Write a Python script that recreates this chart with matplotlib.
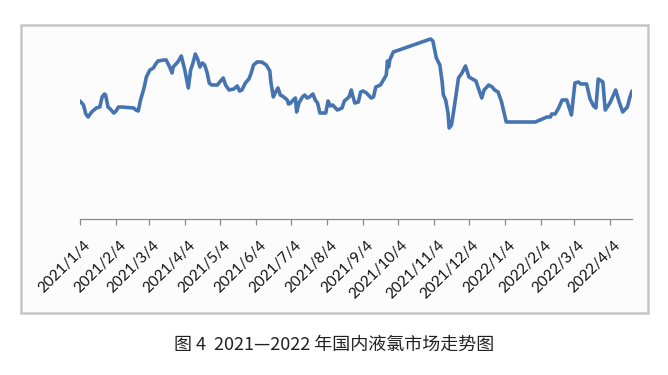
import matplotlib
matplotlib.use("Agg")
import matplotlib.pyplot as plt
import matplotlib.patches as mpatches
import matplotlib.transforms as mtrans
import pandas as pd

# ---- data (units arbitrary, no y labels shown) ----
dates = [
    "2021-01-04", "2021-01-07", "2021-01-09", "2021-01-11", "2021-01-14", "2021-01-18",
    "2021-01-21", "2021-01-23", "2021-01-25", "2021-01-26", "2021-01-28", "2021-01-30",
    "2021-02-02", "2021-02-04", "2021-02-06", "2021-02-09", "2021-02-19", "2021-02-21",
    "2021-02-23", "2021-02-25", "2021-02-28", "2021-03-02", "2021-03-05", "2021-03-08",
    "2021-03-10", "2021-03-12", "2021-03-17", "2021-03-19", "2021-03-22", "2021-03-24",
    "2021-03-25", "2021-03-29", "2021-04-01", "2021-04-04", "2021-04-07", "2021-04-09",
    "2021-04-11", "2021-04-13", "2021-04-15", "2021-04-17", "2021-04-19", "2021-04-21",
    "2021-04-23", "2021-04-25", "2021-04-27", "2021-05-02", "2021-05-04", "2021-05-07",
    "2021-05-09", "2021-05-12", "2021-05-16", "2021-05-19", "2021-05-21", "2021-05-23",
    "2021-05-26", "2021-05-29", "2021-05-31", "2021-06-02", "2021-06-05", "2021-06-09",
    "2021-06-13", "2021-06-16", "2021-06-17", "2021-06-19", "2021-06-21", "2021-06-23",
    "2021-06-25", "2021-06-28", "2021-07-01", "2021-07-02", "2021-07-04", "2021-07-06",
    "2021-07-08", "2021-07-09", "2021-07-11", "2021-07-14", "2021-07-16", "2021-07-18",
    "2021-07-20", "2021-07-23", "2021-07-25", "2021-07-27", "2021-07-29", "2021-08-01",
    "2021-08-03", "2021-08-05", "2021-08-07", "2021-08-09", "2021-08-13", "2021-08-17",
    "2021-08-19", "2021-08-23", "2021-08-25", "2021-08-26", "2021-08-28", "2021-08-31",
    "2021-09-02", "2021-09-04", "2021-09-07", "2021-09-11", "2021-09-13", "2021-09-15",
    "2021-09-19", "2021-09-22", "2021-09-24", "2021-09-25", "2021-09-26", "2021-09-27",
    "2021-09-30", "2021-11-01", "2021-11-03", "2021-11-06", "2021-11-09", "2021-11-11",
    "2021-11-12", "2021-11-14", "2021-11-16", "2021-11-17", "2021-11-19", "2021-11-21",
    "2021-11-25", "2021-11-28", "2021-12-01", "2021-12-04", "2021-12-07", "2021-12-10",
    "2021-12-12", "2021-12-15", "2021-12-17", "2021-12-21", "2021-12-24", "2021-12-26",
    "2021-12-29", "2022-01-01", "2022-01-05", "2022-01-30", "2022-02-03", "2022-02-09",
    "2022-02-12", "2022-02-13", "2022-02-16", "2022-02-19", "2022-02-22", "2022-02-26",
    "2022-03-02", "2022-03-05", "2022-03-08", "2022-03-10", "2022-03-15", "2022-03-18",
    "2022-03-21", "2022-03-23", "2022-03-25", "2022-03-29", "2022-03-31", "2022-04-04",
    "2022-04-09", "2022-04-12", "2022-04-15", "2022-04-19", "2022-04-21", "2022-04-23",
]
prices = [
    1180, 1140, 1050, 1020, 1070, 1110,
    1120, 1220, 1250, 1240, 1120, 1100,
    1060, 1080, 1120, 1120, 1110, 1090,
    1080, 1190, 1310, 1420, 1490, 1510,
    1550, 1580, 1590, 1590, 1520, 1460,
    1520, 1570, 1630, 1490, 1310, 1490,
    1560, 1650, 1600, 1520, 1560, 1540,
    1470, 1360, 1340, 1340, 1370, 1410,
    1340, 1290, 1300, 1330, 1280, 1290,
    1360, 1400, 1460, 1540, 1570, 1570,
    1540, 1480, 1360, 1220, 1270, 1310,
    1240, 1220, 1190, 1150, 1160, 1190,
    1210, 1070, 1160, 1220, 1240, 1210,
    1220, 1250, 1190, 1160, 1060, 1060,
    1060, 1180, 1130, 1140, 1090, 1110,
    1180, 1220, 1290, 1240, 1160, 1170,
    1270, 1280, 1260, 1210, 1220, 1320,
    1340, 1400, 1440, 1580, 1520, 1590,
    1670, 1800, 1780, 1610, 1540, 1370,
    1240, 1190, 1060, 910, 940, 1090,
    1410, 1460, 1530, 1420, 1400, 1380,
    1310, 1210, 1290, 1340, 1320, 1290,
    1270, 1170, 970, 970, 990, 1020,
    1020, 1050, 1050, 1110, 1190, 1190,
    1040, 1360, 1370, 1350, 1350, 1200,
    1130, 1110, 1400, 1370, 1090, 1160,
    1290, 1170, 1070, 1120, 1210, 1280,
]
tick_dates = [
    "2021-01-04", "2021-02-04", "2021-03-04", "2021-04-04", "2021-05-04", "2021-06-04",
    "2021-07-04", "2021-08-04", "2021-09-04", "2021-10-04", "2021-11-04", "2021-12-04",
    "2022-01-04", "2022-02-04", "2022-03-04", "2022-04-04",
]
tick_labels = [
    "2021/1/4", "2021/2/4", "2021/3/4", "2021/4/4", "2021/5/4", "2021/6/4",
    "2021/7/4", "2021/8/4", "2021/9/4", "2021/10/4", "2021/11/4", "2021/12/4",
    "2022/1/4", "2022/2/4", "2022/3/4", "2022/4/4",
]
caption = "图 4  2021—2022 年国内液氯市场走势图"

W, H = 668, 375
fig = plt.figure(figsize=(W / 100, H / 100), dpi=100)
fig.patch.set_facecolor("white")

# background axes holding the outer chart frame
bg = fig.add_axes([0, 0, 1, 1], zorder=0)
bg.set_axis_off()
bg.set_xlim(0, W)
bg.set_ylim(H, 0)
bg.add_patch(mpatches.Rectangle((21, 25), 648 - 21, 313 - 25, facecolor="#fcfcfc",
                                edgecolor="#c6c6c6", linewidth=1.8))

ax = fig.add_axes([80 / W, 1 - 219 / H, (632 - 80) / W, (219 - 35) / H], zorder=1)
ax.set_facecolor("none")

x = pd.to_datetime(dates)
ax.plot(x, prices, color="#4674B0", linewidth=2.6, solid_joinstyle="round",
        solid_capstyle="round")

ax.set_xlim(pd.Timestamp("2021-01-04"), pd.Timestamp("2022-04-23"))
ax.set_ylim(0, 1840)

for s in ["left", "right", "top"]:
    ax.spines[s].set_visible(False)
ax.spines["bottom"].set_color("#8a8a8a")
ax.spines["bottom"].set_linewidth(0.9)
ax.set_yticks([])

ax.set_xticks(pd.to_datetime(tick_dates))
ax.set_xticklabels(tick_labels, rotation=45, ha="right", va="top",
                   rotation_mode="anchor", fontsize=11, family="Lato",
                   color="#111111")
ax.tick_params(axis="x", direction="out", length=4.5, width=0.9, color="#8a8a8a", pad=9)
offset = mtrans.ScaledTranslation(3 / 100, 0, fig.dpi_scale_trans)
for lab in ax.get_xticklabels():
    lab.set_transform(lab.get_transform() + offset)

fig.text(0.5, 1 - 345 / H, caption, ha="center", va="center", fontsize=13,
         family=["Noto Sans CJK SC", "DejaVu Sans"], color="#222222")

fig.savefig("out.png", dpi=100, facecolor="white")
